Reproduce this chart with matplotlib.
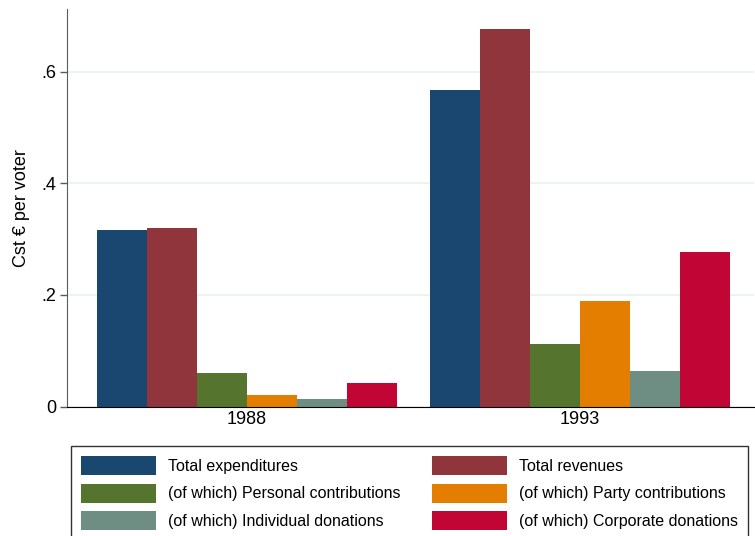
import numpy as np
import matplotlib.pyplot as plt
from matplotlib.patches import Patch

plt.rcParams['font.family'] = ['Liberation Sans', 'DejaVu Sans']

years = ['1988', '1993']
series = ['Total expenditures', 'Total revenues',
          '(of which) Personal contributions', '(of which) Party contributions',
          '(of which) Individual donations', '(of which) Corporate donations']
expenditures = [0.316, 0.567]
revenues = [0.320, 0.676]
personal = [0.060, 0.112]
party = [0.021, 0.189]
individual = [0.013, 0.064]
corporate = [0.042, 0.277]
colors = ['#1a476f', '#90353b', '#55752f', '#e37e00', '#6e8e84', '#c10534']

values = [expenditures, revenues, personal, party, individual, corporate]

W, H = 755, 536
fig = plt.figure(figsize=(W / 100, H / 100), dpi=100)
ax = fig.add_axes([67 / W, 1 - 406.5 / H, (754 - 67) / W, (406.5 - 9) / H])

group_start = np.array([0.0, 6.66])
for i, (vals, c) in enumerate(zip(values, colors)):
    ax.bar(group_start + i + 0.5, vals, width=1.0, color=c, label=series[i])

ax.set_xlim(-0.6, 13.14)
ax.set_ylim(0, 0.712)
ax.set_xticks(group_start + 3)
ax.set_xticklabels(years, fontsize=13)
ax.set_yticks([0, 0.2, 0.4, 0.6])
ax.set_yticklabels(['0', '.2', '.4', '.6'], fontsize=13)
ax.tick_params(axis='x', length=0, pad=3)
ax.tick_params(axis='y', length=5, width=1, color='#5a5a5a', pad=3)
ax.set_ylabel('Cst € per voter', fontsize=13, labelpad=8)

ax.grid(axis='y', color='#eaf0f3', linewidth=1.2)
ax.set_axisbelow(True)
for s in ['top', 'right']:
    ax.spines[s].set_visible(False)
ax.spines['left'].set_color('#5a5a5a')
ax.spines['bottom'].set_color('black')

# legend fills row by row: reorder for matplotlib's column-major layout
# (its box runs slightly past the bottom edge of the figure)
order = [0, 2, 4, 1, 3, 5]
handles = [Patch(facecolor=colors[k], edgecolor='none') for k in order]
labels = [series[k] for k in order]
leg = fig.legend(handles, labels, ncol=2, fontsize=11.5,
                 bbox_to_anchor=(71 / W, 1 - 540 / H, (748 - 71) / W, (540 - 444) / H),
                 loc='lower left', mode='expand', frameon=True, fancybox=False,
                 edgecolor='black', handlelength=4.7, handleheight=1.45,
                 handletextpad=0.75, borderpad=0.6, labelspacing=0.55,
                 borderaxespad=0)
leg.get_frame().set_linewidth(1.0)

fig.savefig('out.png', dpi=100)
